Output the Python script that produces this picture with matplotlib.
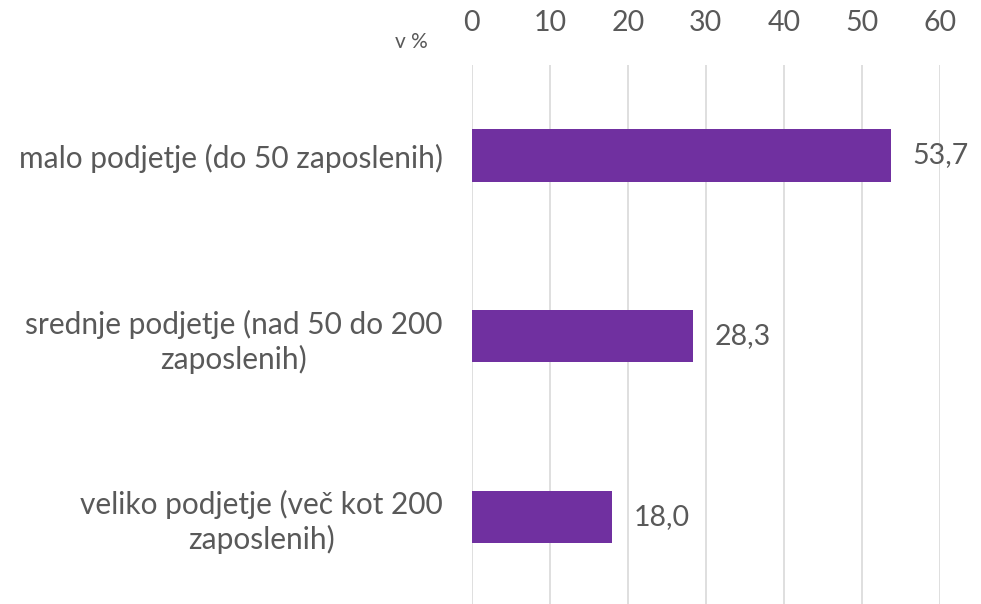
import matplotlib.pyplot as plt

# Data
categories = ['malo podjetje (do 50 zaposlenih)',
              'srednje podjetje (nad 50 do 200\nzaposlenih)',
              'veliko podjetje (več kot 200\nzaposlenih)']
values = [53.7, 28.3, 18.0]
ticks = [0, 10, 20, 30, 40, 50, 60]

plt.rcParams['font.family'] = ['Lato', 'DejaVu Sans']
gray = '#595959'

fig = plt.figure(figsize=(9.81, 6.04), dpi=100)
ax = fig.add_axes([0.481, -0.005, 0.477, 0.897])

ypos = list(range(len(categories)))
ax.barh(ypos, values, height=0.29, color='#7030A0', zorder=3)

ax.set_xlim(0, 60)
ax.set_ylim(2.5, -0.5)
ax.set_xticks(ticks)
ax.xaxis.tick_top()
ax.tick_params(axis='x', length=0, pad=21, labelsize=20.5, labelcolor=gray)
ax.set_yticks(ypos)
ax.set_yticklabels(categories, fontsize=21.5, color=gray, multialignment='center',
                   linespacing=1.25)
ax.tick_params(axis='y', length=0, pad=21)

ax.grid(axis='x', color='#d9d9d9', linewidth=1.2, zorder=0)
for s in ax.spines.values():
    s.set_visible(False)

for y, v in zip(ypos, values):
    ax.text(v + 2.8, y, f'{v:.1f}'.replace('.', ','), va='center', ha='left',
            fontsize=20.5, color=gray)

fig.text(0.419, 0.93, 'v %', fontsize=15, color=gray, ha='center', va='center')

fig.savefig('out.png', dpi=100)
